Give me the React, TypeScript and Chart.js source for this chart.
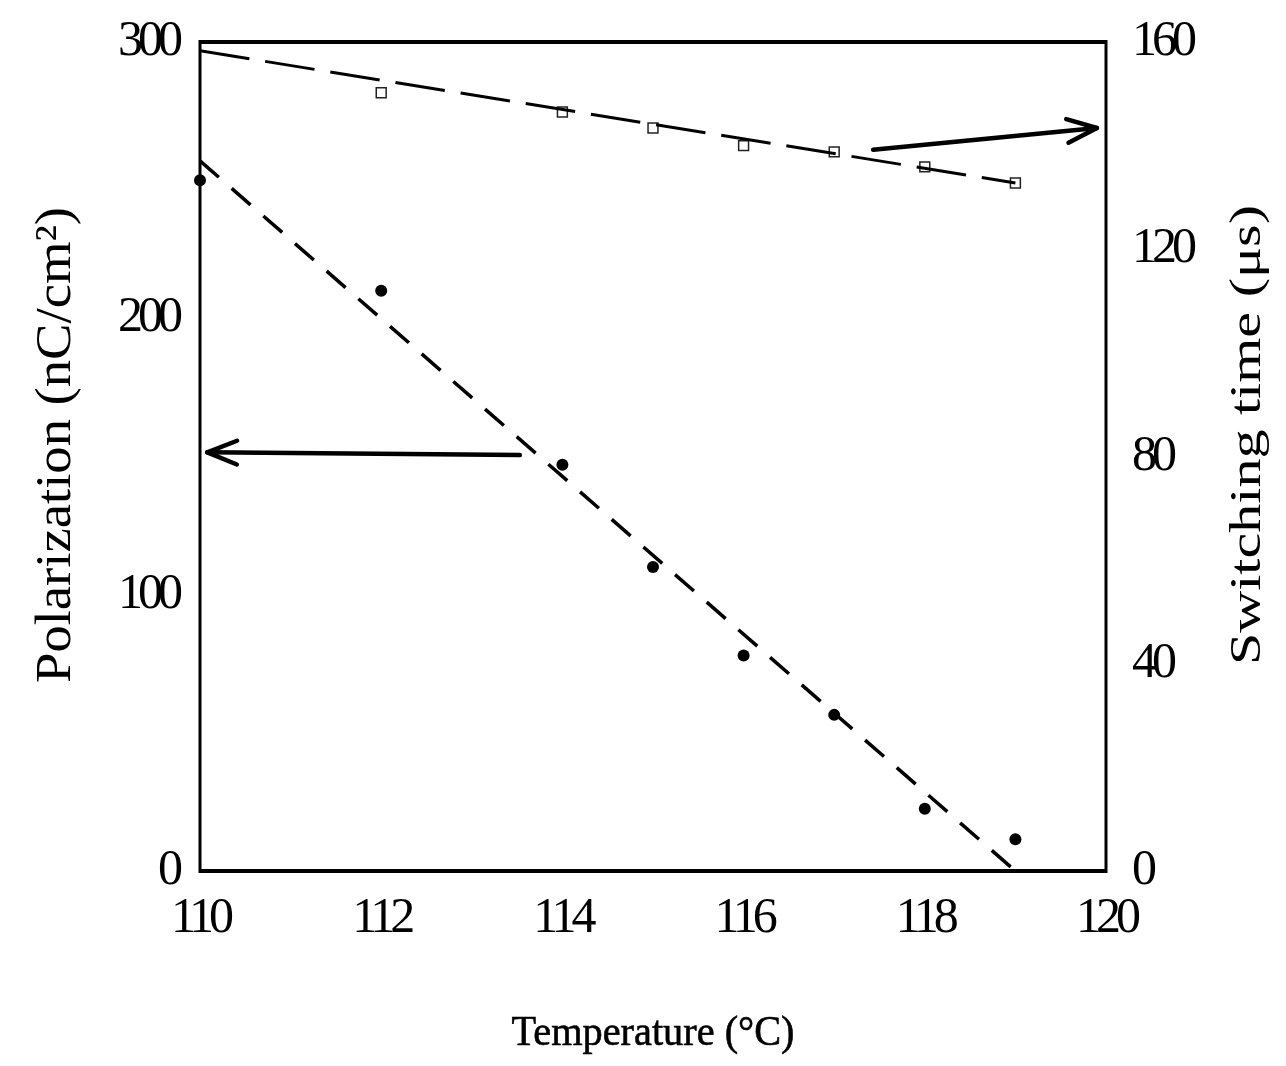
import React, { useEffect, useRef } from "react";
import { Chart, registerables } from "chart.js";

Chart.register(...registerables);

// ---- data ----
const polTemps = [110, 112, 114, 115, 116, 117, 118, 119];
const polarization = [250, 210, 147, 110, 78, 56.5, 22.5, 11.5];
const swTemps = [112, 114, 115, 116, 117, 118, 119];
const switchingTime = [150.2, 146.5, 143.4, 140, 138.8, 135.9, 132.8];
const polFitX = [110, 119];
const polFitY = [257, 0];
const swFitX = [110, 119];
const swFitY = [158.3, 132.8];

const xRange = [110, 120];
const yRange = [0, 300];
const y2Range = [0, 160];
const xStep = 2;
const yStep = 100;
const y2Step = 40;

const xTitle = "Temperature (°C)";
const yTitle = "Polarization (nC/cm²)";
const y2Title = "Switching time (μs)";

// arrows in data coordinates: [x, y]
const arrowPolFrom = [113.53, 150.5];
const arrowPolTo = [110.08, 151.5];
const arrowSwFrom = [117.43, 139.2];
const arrowSwTo = [119.9, 143.4];

const FONT = "'Liberation Serif', 'Times New Roman', serif";

function drawTitle(
  ctx: CanvasRenderingContext2D,
  text: string,
  x: number,
  y: number,
  size: number,
  rotation: number,
  targetWidth: number,
  stroke: number
) {
  ctx.save();
  ctx.font = `${size}px ${FONT}`;
  (ctx as any).letterSpacing = "0px";
  ctx.fillStyle = "#000";
  ctx.strokeStyle = "#000";
  ctx.textAlign = "center";
  ctx.textBaseline = "alphabetic";
  ctx.translate(x, y);
  ctx.rotate(rotation);
  const w = ctx.measureText(text).width;
  ctx.scale(targetWidth / w, 1);
  ctx.fillText(text, 0, 0);
  if (stroke > 0) {
    ctx.lineWidth = stroke;
    ctx.strokeText(text, 0, 0);
  }
  ctx.restore();
}

function drawArrow(
  ctx: CanvasRenderingContext2D,
  x1: number,
  y1: number,
  x2: number,
  y2: number
) {
  const ang = Math.atan2(y2 - y1, x2 - x1);
  const headLen = 32;
  const headAng = 0.38;
  ctx.save();
  ctx.strokeStyle = "#000";
  ctx.lineWidth = 4.5;
  ctx.lineCap = "round";
  ctx.lineJoin = "round";
  ctx.beginPath();
  ctx.moveTo(x1, y1);
  ctx.lineTo(x2, y2);
  ctx.stroke();
  ctx.beginPath();
  ctx.moveTo(x2 - headLen * Math.cos(ang - headAng), y2 - headLen * Math.sin(ang - headAng));
  ctx.lineTo(x2, y2);
  ctx.lineTo(x2 - headLen * Math.cos(ang + headAng), y2 - headLen * Math.sin(ang + headAng));
  ctx.stroke();
  ctx.restore();
}

const overlayPlugin = {
  id: "overlay",
  beforeDraw(chart: any) {
    (chart.ctx as any).letterSpacing = "-5px";
  },
  beforeDatasetsDraw(chart: any) {
    const { ctx, chartArea: a } = chart;
    ctx.save();
    ctx.strokeStyle = "#000";
    ctx.lineWidth = 4;
    ctx.beginPath();
    ctx.moveTo(a.left, a.top);
    ctx.lineTo(a.right, a.top);
    ctx.moveTo(a.left, a.bottom);
    ctx.lineTo(a.right, a.bottom);
    ctx.stroke();
    ctx.lineWidth = 3;
    ctx.beginPath();
    ctx.moveTo(a.left, a.top - 2);
    ctx.lineTo(a.left, a.bottom + 2);
    ctx.moveTo(a.right, a.top - 2);
    ctx.lineTo(a.right, a.bottom + 2);
    ctx.stroke();
    ctx.restore();
  },
  afterDatasetsDraw(chart: any) {
    const { ctx, scales } = chart;
    const x = scales.x, y = scales.y, y2 = scales.y2;
    drawArrow(
      ctx,
      x.getPixelForValue(arrowPolFrom[0]),
      y.getPixelForValue(arrowPolFrom[1]),
      x.getPixelForValue(arrowPolTo[0]),
      y.getPixelForValue(arrowPolTo[1])
    );
    drawArrow(
      ctx,
      x.getPixelForValue(arrowSwFrom[0]),
      y2.getPixelForValue(arrowSwFrom[1]),
      x.getPixelForValue(arrowSwTo[0]),
      y2.getPixelForValue(arrowSwTo[1])
    );
  },
  afterDraw(chart: any) {
    const { ctx } = chart;
    drawTitle(ctx, xTitle, 653, 1045, 42, 0, 283, 0.6);
    drawTitle(ctx, yTitle, 70, 445, 50, -Math.PI / 2, 476, 0);
    drawTitle(ctx, y2Title, 1260, 435, 44, -Math.PI / 2, 460, 0);
  },
};

export default function App() {
  const ref = useRef<HTMLCanvasElement | null>(null);

  useEffect(() => {
    if (!ref.current) return;
    const tickFont = { family: FONT, size: 50 };
    const chart = new Chart(ref.current, {
      type: "scatter",
      data: {
        datasets: [
          {
            label: "Polarization fit",
            data: polFitX.map((t, i) => ({ x: t, y: polFitY[i] })),
            showLine: true,
            borderColor: "#000",
            borderWidth: 3.5,
            borderDash: [25, 17],
            pointRadius: 0,
            yAxisID: "y",
          },
          {
            label: "Switching time fit",
            data: swFitX.map((t, i) => ({ x: t, y: swFitY[i] })),
            showLine: true,
            borderColor: "#000",
            borderWidth: 3,
            borderDash: [50, 16],
            pointRadius: 0,
            yAxisID: "y2",
          },
          {
            label: "Polarization",
            data: polTemps.map((t, i) => ({ x: t, y: polarization[i] })),
            pointStyle: "circle",
            pointRadius: 6,
            backgroundColor: "#000",
            borderColor: "#000",
            borderWidth: 0,
            yAxisID: "y",
            clip: false,
          },
          {
            label: "Switching time",
            data: swTemps.map((t, i) => ({ x: t, y: switchingTime[i] })),
            pointStyle: "rect",
            pointRadius: 7,
            backgroundColor: "#fff",
            borderColor: "#222",
            borderWidth: 1.5,
            yAxisID: "y2",
            clip: false,
          },
        ],
      },
      options: {
        animation: false,
        responsive: false,
        devicePixelRatio: 1,
        layout: { padding: { top: 42, left: 0, right: 0, bottom: 0 } },
        plugins: {
          legend: { display: false },
          tooltip: { enabled: false },
          title: { display: false },
        },
        scales: {
          x: {
            type: "linear",
            min: xRange[0],
            max: xRange[1],
            grid: { display: false, drawTicks: false },
            border: { display: false },
            ticks: { stepSize: xStep, font: tickFont, color: "#000", padding: 18, maxRotation: 0 },
            title: { display: false, text: xTitle },
            afterFit: (s: any) => {
              s.height = 195;
              s.paddingLeft = 0;
              s.paddingRight = 0;
            },
          },
          y: {
            type: "linear",
            position: "left",
            min: yRange[0],
            max: yRange[1],
            grid: { display: false, drawTicks: false },
            border: { display: false },
            ticks: { stepSize: yStep, font: tickFont, color: "#000", padding: 22 },
            title: { display: false, text: yTitle },
            afterFit: (s: any) => {
              s.width = 200;
              s.paddingTop = 0;
              s.paddingBottom = 0;
            },
          },
          y2: {
            type: "linear",
            position: "right",
            min: y2Range[0],
            max: y2Range[1],
            grid: { display: false, drawTicks: false },
            border: { display: false },
            ticks: { stepSize: y2Step, font: tickFont, color: "#000", padding: 26 },
            title: { display: false, text: y2Title },
            afterFit: (s: any) => {
              s.width = 180;
              s.paddingTop = 0;
              s.paddingBottom = 0;
            },
          },
        },
      },
      plugins: [overlayPlugin],
    } as any);
    return () => chart.destroy();
  }, []);

  return (
    <div style={{ position: "absolute", left: 0, top: 0, width: 1286, height: 1066, background: "#fff" }}>
      <canvas ref={ref} width={1286} height={1066} style={{ display: "block" }} />
    </div>
  );
}
